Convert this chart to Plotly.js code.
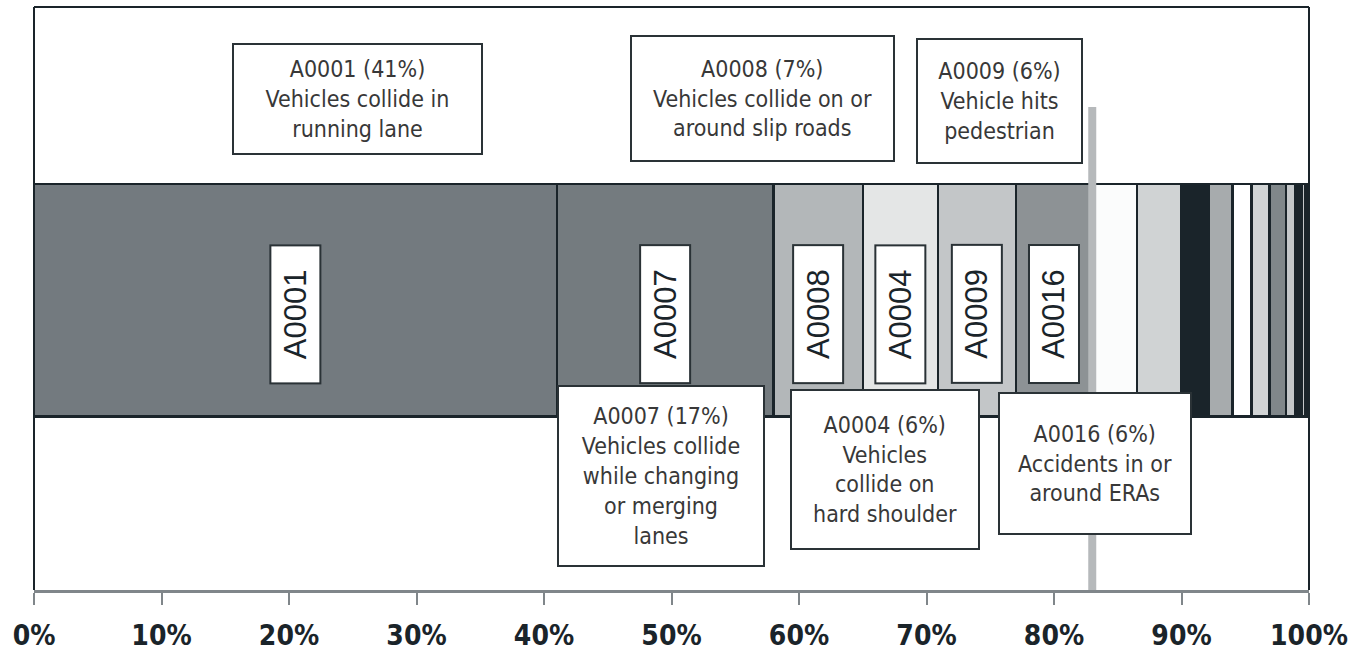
<!DOCTYPE html>
<html>
<head>
<meta charset="utf-8">
<script src="https://cdn.plot.ly/plotly-3.0.1.min.js"></script>
<style>
  html, body { margin: 0; padding: 0; background: #ffffff; }
  #chart { width: 1360px; height: 653px; }
</style>
</head>
<body>
<div id="chart"></div>
<script>
// ---- data ----
const categories = ["A0001", "A0007", "A0008", "A0004", "A0009", "A0016",
  "Other 1", "Other 2", "Other 3", "Other 4", "Other 5", "Other 6",
  "Other 7", "Other 8", "Other 9", "Other 10", "Other 11"];
const shares = [41, 17, 7, 5.9, 6.1, 6, 3.5, 3.5, 2.1, 1.9, 1.5, 1.4, 1.3, 0.7, 0.55, 0.25, 0.3];
const segmentColors = ["#737a7f", "#747b7f", "#b3b7b9", "#e4e6e6", "#c3c6c8", "#8d9295",
  "#fbfcfc", "#d0d3d4", "#1a242a", "#a7abad", "#ffffff", "#d1d4d5",
  "#80878a", "#c4c7c9", "#1a242a", "#c4c7c9", "#1a242a"];
const labelledCount = 6;
const calloutCodes = ["A0001", "A0008", "A0009", "A0007", "A0004", "A0016"];
const calloutPercents = ["41%", "7%", "6%", "17%", "6%", "6%"];
const calloutDescriptions = [
  "Vehicles collide in<br>running lane",
  "Vehicles collide on or<br>around slip roads",
  "Vehicle hits<br>pedestrian",
  "Vehicles collide<br>while changing<br>or merging<br>lanes",
  "Vehicles<br>collide on<br>hard shoulder",
  "Accidents in or<br>around ERAs"
];
const tickVals = [0, 10, 20, 30, 40, 50, 60, 70, 80, 90, 100];
const tickText = ["0%", "10%", "20%", "30%", "40%", "50%", "60%", "70%", "80%", "90%", "100%"];

// ---- layout helpers ----
const dark = "#1a242a";
const calloutFont = "'DejaVu Sans Condensed', 'DejaVu Sans', sans-serif";

const traces = categories.map((c, i) => ({
  type: "bar",
  orientation: "h",
  name: c,
  x: [shares[i]],
  y: [0],
  width: 0.398,
  marker: { color: segmentColors[i], line: { color: dark, width: 2.5 } },
  hoverinfo: "skip",
  showlegend: false
}));

// cumulative centres for vertical labels
const starts = [];
let acc = 0;
shares.forEach(v => { starts.push(acc); acc += v; });
const markerX = starts[labelledCount]; // boundary after A0016

const annotations = [];
for (let i = 0; i < labelledCount; i++) {
  annotations.push({
    xref: "x", yref: "paper",
    x: starts[i] + shares[i] / 2, y: 0.4734,
    text: categories[i],
    textangle: -90,
    showarrow: false,
    font: { family: "'Liberation Sans', Arial, sans-serif", size: 31, color: dark },
    bgcolor: "#ffffff",
    bordercolor: "#2a3236",
    borderwidth: 2,
    borderpad: 0,
    width: 136,
    height: 48
  });
}

// callout boxes: [x paper, y paper, width, height]
const calloutBoxes = [
  [0.2537, 0.8422, 251, 112],
  [0.5714, 0.8431, 265, 127],
  [0.7573, 0.8388, 167, 126],
  [0.4918, 0.1955, 208, 182],
  [0.6675, 0.2067, 190, 161],
  [0.8322, 0.2170, 194, 143]
];
calloutCodes.forEach((code, i) => {
  const b = calloutBoxes[i];
  annotations.push({
    xref: "paper", yref: "paper",
    x: b[0], y: b[1],
    xanchor: "center", yanchor: "middle",
    text: code + " (" + calloutPercents[i] + ")<br>" + calloutDescriptions[i],
    showarrow: false,
    align: "center",
    font: { family: calloutFont, size: 23, color: "#383838" },
    bgcolor: "#ffffff",
    bordercolor: "#2a3236",
    borderwidth: 2,
    borderpad: 0,
    width: b[2] - 4,
    height: b[3] - 4
  });
});

const shapes = [
  // frame (left, top, right)
  { type: "line", xref: "paper", yref: "paper", x0: 0, x1: 0, y0: 0, y1: 1, line: { color: dark, width: 2 }, layer: "above" },
  { type: "line", xref: "paper", yref: "paper", x0: 0, x1: 1, y0: 1, y1: 1, line: { color: dark, width: 2 }, layer: "above" },
  { type: "line", xref: "paper", yref: "paper", x0: 1, x1: 1, y0: 0, y1: 1, line: { color: dark, width: 2 }, layer: "above" },
  // marker line at the end of the six labelled categories
  { type: "line", xref: "x", yref: "paper", x0: markerX, x1: markerX, y0: 0, y1: 0.8285, line: { color: "#b6b9bb", width: 8 }, layer: "above" }
];

const layout = {
  width: 1360, height: 653,
  margin: { l: 34, r: 51, t: 7, b: 63 },
  paper_bgcolor: "#ffffff",
  plot_bgcolor: "#ffffff",
  barmode: "stack",
  bargap: 0,
  showlegend: false,
  xaxis: {
    range: [0, 100],
    tickvals: tickVals,
    ticktext: tickText,
    ticks: "outside",
    ticklen: 12,
    tickwidth: 2,
    tickcolor: "#80868a",
    ticklabelstandoff: 6,
    showline: true,
    linecolor: "#80868a",
    linewidth: 3,
    showgrid: false,
    zeroline: false,
    tickfont: { family: "'DejaVu Sans Condensed', 'DejaVu Sans', sans-serif", size: 28, color: dark, weight: "bold" },
    fixedrange: true
  },
  yaxis: {
    range: [-0.497, 0.503],
    showticklabels: false,
    showgrid: false,
    zeroline: false,
    showline: false,
    ticks: "",
    fixedrange: true
  },
  annotations: annotations,
  shapes: shapes
};

Plotly.newPlot("chart", traces, layout, { displayModeBar: false, staticPlot: true });
</script>
</body>
</html>
